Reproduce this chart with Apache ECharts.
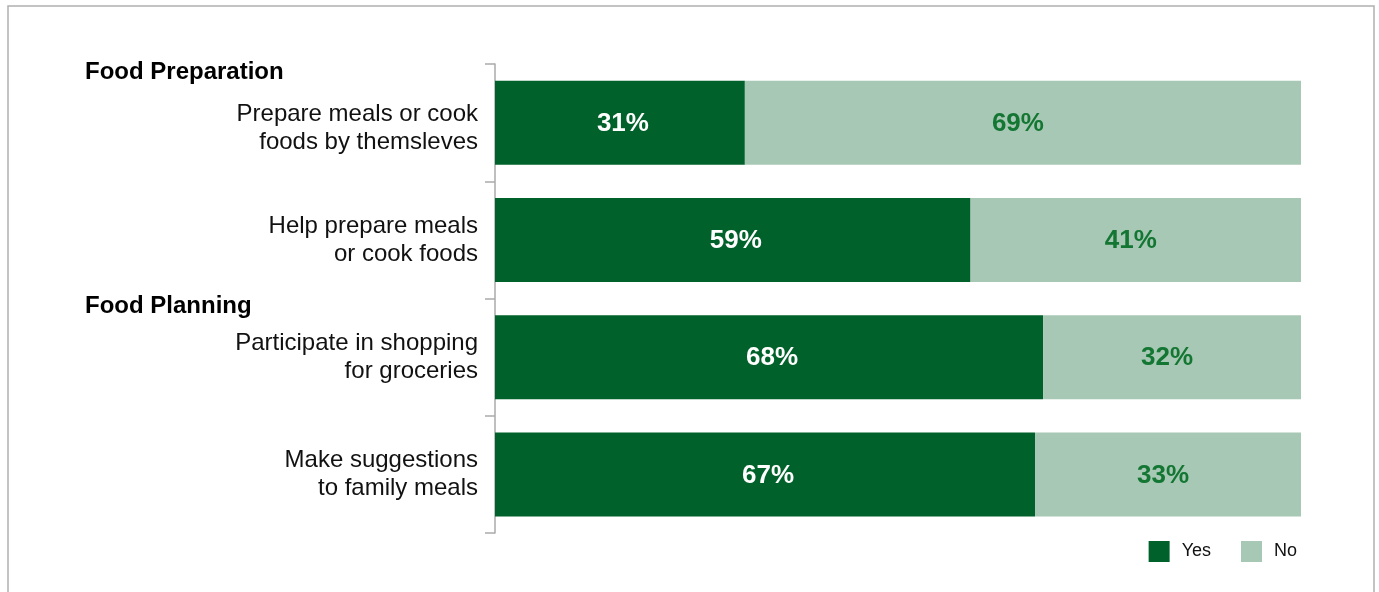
<!DOCTYPE html>
<html>
<head>
<meta charset="utf-8">
<script src="https://cdn.jsdelivr.net/npm/echarts@6/dist/echarts.min.js"></script>
<style>
html,body{margin:0;padding:0;background:#fff;}
#chart{width:1379px;height:592px;}
</style>
</head>
<body>
<div id="chart"></div>
<script>
const categories = [
  "Prepare meals or cook\nfoods by themsleves",
  "Help prepare meals\nor cook foods",
  "Participate in shopping\nfor groceries",
  "Make suggestions\nto family meals"
];
const yesValues = [31, 59, 68, 67];
const noValues = [69, 41, 32, 33];
const groupNames = ["Food Preparation", "Food Planning"];
const groupStartIndex = [0, 2];

const FONT = '"Liberation Sans", Arial, Helvetica, sans-serif';
const DARK = '#00622a';
const LIGHT = '#a7c8b4';

const chart = echarts.init(document.getElementById('chart'));
const option = {
  animation: false,
  backgroundColor: '#fff',
  grid: { left: 495, right: 78, top: 64, bottom: 59, containLabel: false },
  legend: {
    data: ['Yes', 'No'],
    right: 82, top: 541, padding: 0,
    itemWidth: 21, itemHeight: 21, itemGap: 30, itemTextGap: 12,
    icon: 'rect',
    textStyle: { fontFamily: FONT, fontSize: 18, color: '#111', padding: [0, 0, 0, 7] }
  },
  xAxis: { type: 'value', min: 0, max: 100, show: false },
  yAxis: {
    type: 'category', inverse: true, data: categories,
    axisLine: { show: true, lineStyle: { color: '#aaaaaa', width: 1.5 } },
    axisTick: { show: true, length: 10, lineStyle: { color: '#aaaaaa', width: 1.5 } },
    axisLabel: {
      fontFamily: FONT, fontSize: 24, lineHeight: 28, color: '#111', margin: 17, align: 'right',
      formatter: function (value, index) {
        if (index === 0) {
          return value.split('\n').map(function (l) { return '{first|' + l + '}'; }).join('\n');
        }
        return value;
      },
      rich: {
        first: { fontFamily: FONT, fontSize: 24, lineHeight: 28, color: '#111', padding: [12, 0, 0, 0] }
      }
    }
  },
  series: [
    {
      name: 'Yes', type: 'bar', stack: 'a', data: yesValues, barWidth: 84,
      itemStyle: { color: DARK },
      label: { show: true, position: 'inside', offset: [3, 1], formatter: '{c}%', color: '#fff', fontFamily: FONT, fontWeight: 'bold', fontSize: 26 }
    },
    {
      name: 'No', type: 'bar', stack: 'a', data: noValues, barWidth: 84,
      itemStyle: { color: LIGHT },
      label: { show: true, position: 'inside', offset: [-5, 1], formatter: '{c}%', color: '#137632', fontFamily: FONT, fontWeight: 'bold', fontSize: 26 }
    }
  ]
};
chart.setOption(option);

const y0 = chart.convertToPixel({ yAxisIndex: 0 }, 0);
const y1 = chart.convertToPixel({ yAxisIndex: 0 }, 1);
const band = y1 - y0;
const graphics = [{
  type: 'rect', silent: true,
  shape: { x: 8, y: 6, width: 1366, height: 620 },
  style: { fill: 'none', stroke: '#b0b0b0', lineWidth: 1.5 }
}];
groupNames.forEach((name, i) => {
  const yc = chart.convertToPixel({ yAxisIndex: 0 }, groupStartIndex[i]);
  graphics.push({
    type: 'text', silent: true,
    x: 85, y: yc - band / 2 + 8,
    style: { text: name, fontFamily: FONT, fontWeight: 'bold', fontSize: 24, fill: '#000', textAlign: 'left', textVerticalAlign: 'middle' }
  });
});
chart.setOption({ graphic: graphics });
</script>
</body>
</html>
